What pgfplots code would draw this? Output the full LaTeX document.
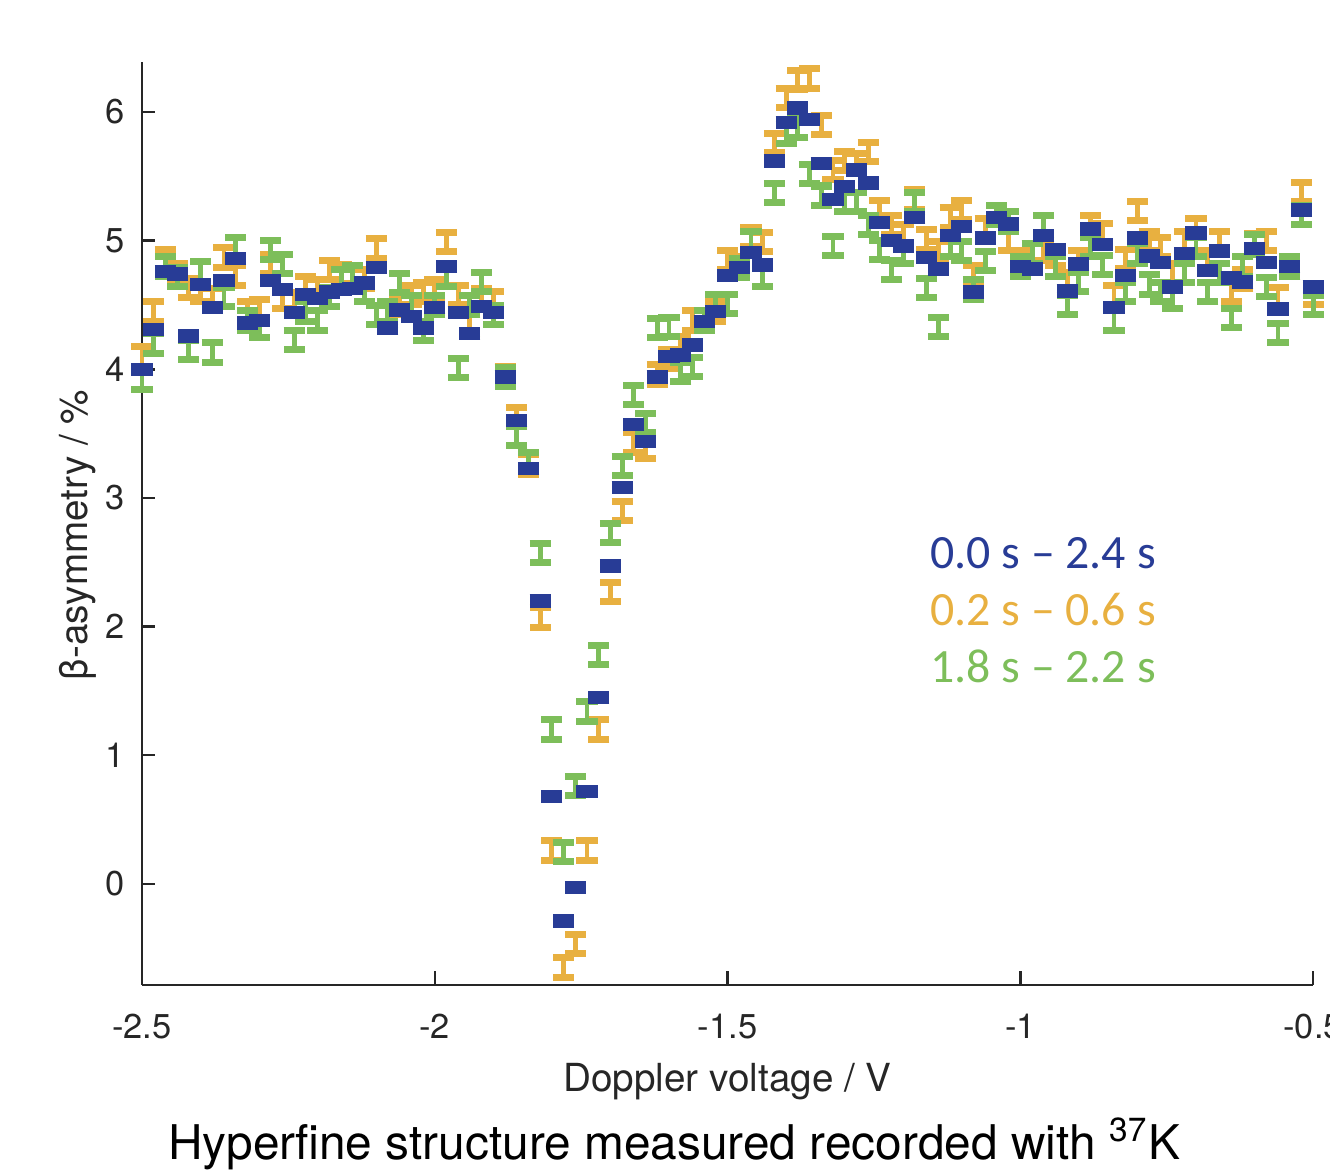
\documentclass[border=0pt]{standalone}
\usepackage{fontspec}
\setmainfont{TeX Gyre Heros}
\newfontfamily\calibri{Carlito}
\usepackage{pgfplots}
\usepackage{pgfplotstable}
\pgfplotsset{compat=1.18}

\definecolor{cblue}{RGB}{40,60,150}
\definecolor{corange}{RGB}{232,176,64}
\definecolor{cgreen}{RGB}{125,190,90}
\definecolor{axgray}{RGB}{38,38,38}

% x = Doppler voltage, b/o/g = asymmetry for the three time windows
\pgfplotstableread{
x b o g
-2.50 4.00 4.10 3.92
-2.48 4.31 4.45 4.20
-2.46 4.76 4.86 4.80
-2.44 4.74 4.75 4.72
-2.42 4.26 4.63 4.15
-2.40 4.66 4.60 4.76
-2.38 4.48 4.55 4.13
-2.36 4.69 4.87 4.56
-2.34 4.86 4.73 4.95
-2.32 4.36 4.45 4.38
-2.30 4.38 4.47 4.32
-2.28 4.69 4.82 4.93
-2.26 4.62 4.55 4.82
-2.24 4.44 4.52 4.23
-2.22 4.58 4.65 4.45
-2.20 4.55 4.62 4.38
-2.18 4.60 4.77 4.56
-2.16 4.62 4.74 4.70
-2.14 4.63 4.72 4.73
-2.12 4.67 4.70 4.60
-2.10 4.79 4.94 4.42
-2.08 4.32 4.42 4.45
-2.06 4.46 4.50 4.67
-2.04 4.41 4.58 4.50
-2.02 4.32 4.60 4.30
-2.00 4.48 4.62 4.50
-1.98 4.80 4.99 4.72
-1.96 4.44 4.58 4.01
-1.94 4.28 4.35 4.50
-1.92 4.49 4.55 4.68
-1.90 4.44 4.53 4.42
-1.88 3.94 3.95 3.94
-1.86 3.60 3.63 3.48
-1.84 3.23 3.26 3.28
-1.82 2.20 2.07 2.57
-1.80 0.68 0.26 1.20
-1.78 -0.29 -0.65 0.25
-1.76 -0.03 -0.47 0.76
-1.74 0.72 0.26 1.34
-1.72 1.45 1.20 1.78
-1.70 2.47 2.27 2.73
-1.68 3.08 2.90 3.25
-1.66 3.57 3.43 3.80
-1.64 3.44 3.38 3.58
-1.62 3.94 3.96 4.32
-1.60 4.10 4.08 4.33
-1.58 4.11 4.18 3.98
-1.56 4.19 4.38 4.02
-1.54 4.37 4.38 4.38
-1.52 4.45 4.45 4.51
-1.50 4.73 4.85 4.51
-1.48 4.79 4.80 4.79
-1.46 4.91 5.03 5.00
-1.44 4.81 4.99 4.72
-1.42 5.62 5.76 5.37
-1.40 5.92 6.11 5.83
-1.38 6.03 6.25 5.88
-1.36 5.94 6.26 5.52
-1.34 5.60 5.90 5.35
-1.32 5.32 5.55 4.96
-1.30 5.42 5.62 5.30
-1.28 5.55 5.60 5.30
-1.26 5.45 5.69 5.12
-1.24 5.14 5.24 4.93
-1.22 5.00 5.12 4.77
-1.20 4.96 5.05 4.90
-1.18 5.18 5.32 5.30
-1.16 4.87 5.01 4.63
-1.14 4.78 4.92 4.33
-1.12 5.04 5.18 4.95
-1.10 5.11 5.24 4.92
-1.08 4.60 4.73 4.62
-1.06 5.02 5.10 4.84
-1.04 5.18 5.20 5.20
-1.02 5.13 5.00 5.15
-1.00 4.80 4.85 4.80
-0.98 4.78 4.90 4.90
-0.96 5.04 4.92 5.12
-0.94 4.93 4.88 4.80
-0.92 4.61 4.68 4.50
-0.90 4.82 4.85 4.68
-0.88 5.09 5.12 4.95
-0.86 4.97 5.06 4.81
-0.84 4.48 4.58 4.38
-0.82 4.73 4.86 4.60
-0.80 5.02 5.23 4.90
-0.78 4.88 5.00 4.66
-0.76 4.83 4.95 4.60
-0.74 4.64 4.75 4.55
-0.72 4.90 5.00 4.75
-0.70 5.06 5.10 4.95
-0.68 4.77 4.85 4.60
-0.66 4.92 5.00 4.75
-0.64 4.71 4.60 4.40
-0.62 4.68 4.70 4.80
-0.60 4.94 4.98 4.97
-0.58 4.83 5.00 4.64
-0.56 4.47 4.56 4.28
-0.54 4.80 4.80 4.80
-0.52 5.24 5.38 5.20
-0.50 4.64 4.58 4.50
}\hfsdata

\begin{document}
\begin{tikzpicture}
\begin{axis}[
  at={(0,0)}, anchor=south west,
  scale only axis, width=333.2pt, height=262.6pt,
  xmin=-2.5, xmax=-0.5, ymin=-0.785, ymax=6.39,
  axis lines=left,
  axis line style={-, line width=0.7pt, draw=axgray},
  tick align=inside, major tick length=3.8pt,
  tick style={line width=0.7pt, draw=axgray},
  xtick={-2.5,-2,-1.5,-1,-0.5}, xticklabels={-2.5,-2,-1.5,-1,-0.5},
  ytick={0,1,2,3,4,5,6}, yticklabels={0,1,2,3,4,5,6},
  ticklabel style={font=\fontsize{9.8}{11}\selectfont, text=axgray},
  xticklabel style={yshift=-4.8pt},
  yticklabel style={xshift=-1.5pt},
  xlabel={Doppler voltage / V},
  ylabel={β-asymmetry / \%},
  label style={font=\fontsize{11}{13}\selectfont, text=axgray},
  xlabel style={at={(axis description cs:0.5,-0.1158)}, anchor=base},
  ylabel style={at={(axis description cs:-0.055,0.4875)}, anchor=center},
  clip=false,
  hfs/.style={draw=none, mark=none, forget plot,
    error bars/.cd, y dir=both, y fixed=#1},
]
% 0.2 s - 0.6 s
\addplot[hfs=0.075,
  error bar style={draw=corange, line width=1.4pt},
  error mark options={draw=corange, rotate=90, line width=2pt, mark size=3pt}]
  table[x=x, y=o] {\hfsdata};
% 1.8 s - 2.2 s
\addplot[hfs=0.075,
  error bar style={draw=cgreen, line width=1.4pt},
  error mark options={draw=cgreen, rotate=90, line width=2pt, mark size=3pt}]
  table[x=x, y=g] {\hfsdata};
% 0.0 s - 2.4 s
\addplot[hfs=0.025,
  error bar style={draw=cblue, line width=1.4pt},
  error mark options={draw=cblue, rotate=90, line width=2pt, mark size=3pt}]
  table[x=x, y=b] {\hfsdata};

\node[anchor=base west, font=\calibri\fontsize{13.6}{15}\selectfont, text=cblue]
  at (axis cs:-1.175,2.448) {0.0 s – 2.4 s};
\node[anchor=base west, font=\calibri\fontsize{13.6}{15}\selectfont, text=corange]
  at (axis cs:-1.175,2.005) {0.2 s – 0.6 s};
\node[anchor=base west, font=\calibri\fontsize{13.6}{15}\selectfont, text=cgreen]
  at (axis cs:-1.175,1.562) {1.8 s – 2.2 s};

\node[anchor=base, yshift=-49.8pt, font=\fontsize{13.6}{16}\selectfont]
  at (rel axis cs:0.4543,0) {Hyperfine structure measured recorded with \textsuperscript{37}K};
\end{axis}
\pgfresetboundingbox
\path[use as bounding box] (-40.4pt,-52.6pt) rectangle (338.0pt,280.2pt);
\end{tikzpicture}
\end{document}
